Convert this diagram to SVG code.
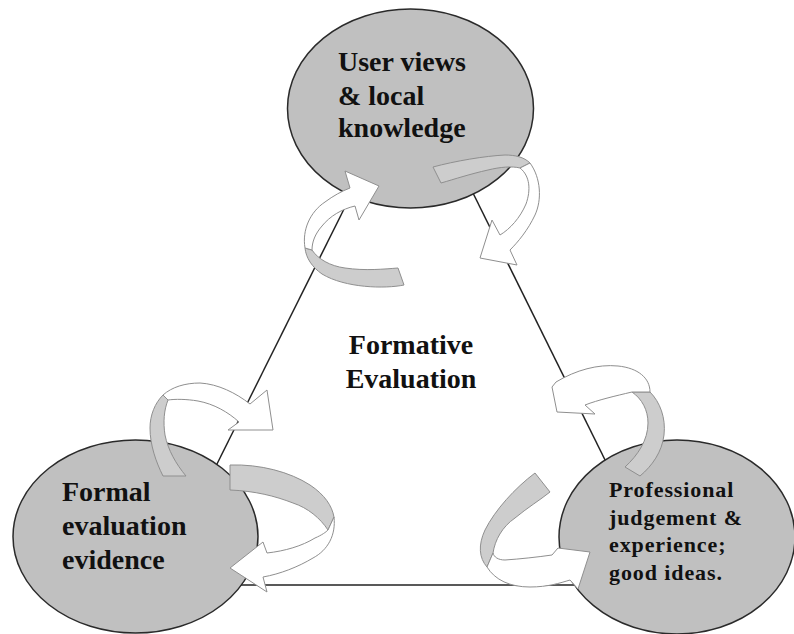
<svg xmlns="http://www.w3.org/2000/svg" width="794" height="634" viewBox="0 0 794 634">
<style>
.bg{fill:#ffffff}
.edge{stroke:#222222;stroke-width:1.5;fill:none}
.node{fill:#c0c0c0;stroke:#2a2a2a;stroke-width:1.5}
.back{fill:#cdcdcd;stroke:#8f8f8f;stroke-width:1}
.front{fill:#ffffff;stroke:#8f8f8f;stroke-width:1;stroke-linejoin:miter}
.lbl{font-family:"Liberation Serif","Times New Roman",serif;font-weight:bold;font-size:28px;fill:#111111}
.lbl2{font-family:"Liberation Serif","Times New Roman",serif;font-weight:bold;font-size:22px;letter-spacing:0.9px;fill:#111111}
</style>
<rect class="bg" x="0" y="0" width="794" height="634"/>
<g id="triangle-edges">
<line class="edge" x1="352" y1="193" x2="210" y2="478"/>
<line class="edge" x1="470" y1="187" x2="612" y2="474"/>
<line class="edge" x1="235" y1="585" x2="590" y2="585"/>
</g>
<g id="node-user">
<ellipse class="node" cx="410.5" cy="108.5" rx="123" ry="99.5"/>
<text class="lbl" x="338" y="71">User views</text>
<text class="lbl" x="338" y="105">&amp; local</text>
<text class="lbl" x="338" y="137">knowledge</text>
</g>
<g id="node-formal">
<ellipse class="node" cx="135.5" cy="536.5" rx="122.5" ry="96.5"/>
<text class="lbl" x="62" y="501">Formal</text>
<text class="lbl" x="62" y="535">evaluation</text>
<text class="lbl" x="62" y="569">evidence</text>
</g>
<g id="node-professional">
<ellipse class="node" cx="677" cy="537" rx="118" ry="97"/>
<text class="lbl2" x="609" y="497">Professional</text>
<text class="lbl2" x="609" y="525">judgement &amp;</text>
<text class="lbl2" x="609" y="552">experience;</text>
<text class="lbl2" x="609" y="580">good ideas.</text>
</g>
<g id="node-center">
<text class="lbl" x="411" y="354" text-anchor="middle">Formative</text>
<text class="lbl" x="411" y="388" text-anchor="middle">Evaluation</text>
</g>
<g id="connectors">
<g id="arrow-a">
<path class="back" d="M398,268 L404,285 C385,289 345,288 322,274 C312,267 306,258 305,248 L312,250 C318,259 330,266 345,268 C365,271 385,269 398,268 Z"/>
<path class="front" d="M305,248 C302,230 310,212 325,202 C333,196 342,191 350,188 L345,171 L379,186 L359,220 L355,206 C342,209 330,216 322,226 C315,234 312,242 312,250 Z"/>
</g>
<g id="arrow-b">
<path class="back" d="M433,167 C455,161 485,156 505,155 C515,155 524,157 530,163 L520,168 C512,166 500,167 488,170 C470,174 455,179 441,183 Z"/>
<path class="front" d="M530,163 C541,178 542,200 535,215 C528,230 518,242 510,250 L517,265 L480,258 L492,220 L500,235 C510,229 520,218 526,204 C531,190 530,176 520,168 Z"/>
</g>
<g id="arrow-c">
<path class="back" d="M163,476 C156,462 150,445 150,428 C150,415 155,403 163,395 L168,400 C164,410 163,422 165,435 C168,450 176,464 186,476 Z"/>
<path class="front" d="M163,395 C172,387 185,383 200,383 C218,384 236,393 250,404 L267,390 L273,430 L228,430 L239,422 C228,412 214,404 198,401 C186,399 175,399 168,400 Z"/>
</g>
<g id="arrow-d">
<path class="back" d="M230,465 C260,464 290,472 310,485 C325,495 332,506 334,517 L328,530 C320,518 308,508 293,503 C275,496 255,491 230,490 Z"/>
<path class="front" d="M334,517 C336,535 328,550 313,558 C298,567 280,574 263,577 L267,592 L230,568 L263,542 L267,553 C285,551 302,546 315,538 C322,535 326,532 328,530 Z"/>
</g>
<g id="arrow-e">
<path class="back" d="M625,467 C638,455 648,440 648,423 C648,410 642,399 632,392 L650,392 C660,402 666,418 664,435 C662,452 652,466 640,476 Z"/>
<path class="front" d="M650,392 C650,378 638,368 618,366 C598,364 576,370 556,382 L552,387 L557,412 L595,414 L585,405 C598,400 615,396 632,392 Z"/>
</g>
<g id="arrow-f">
<path class="back" d="M535,473 C515,488 495,510 485,530 C478,545 479,558 487,567 L493,553 C495,540 502,527 515,518 C527,508 540,500 550,492 Z"/>
<path class="front" d="M487,567 C495,580 510,587 530,587 C548,587 560,583 570,580 L578,589 L590,552 L558,548 L552,555 C538,557 520,559 505,560 C498,560 494,557 493,553 Z"/>
</g>
</g>
</svg>
